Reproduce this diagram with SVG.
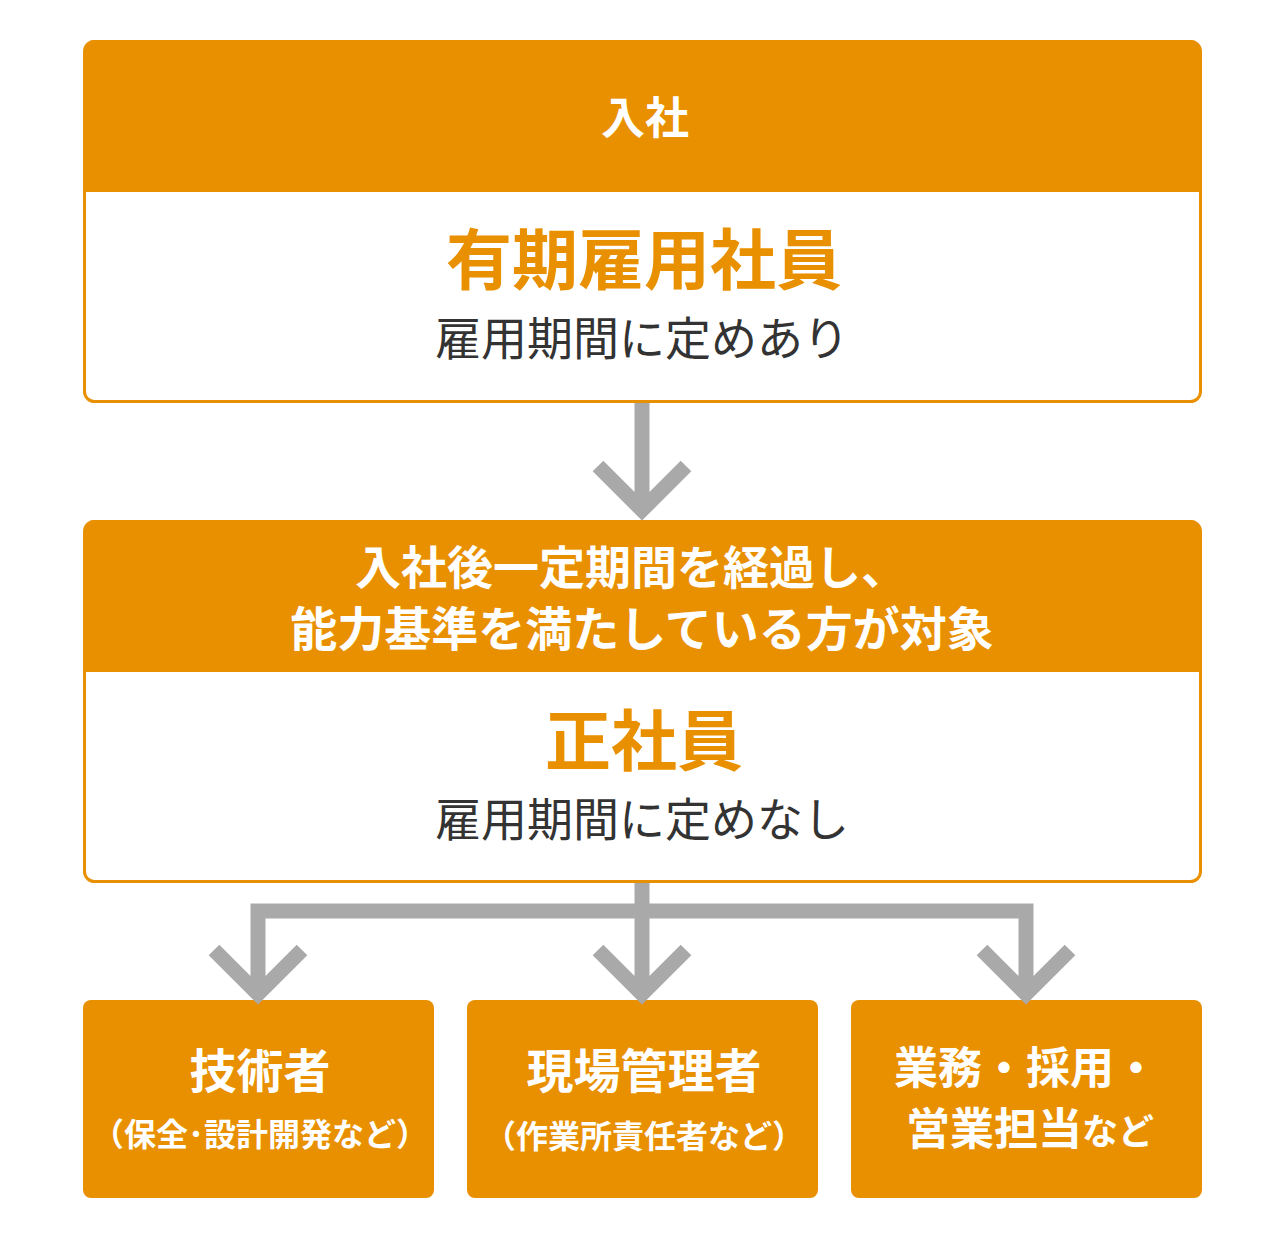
<svg xmlns="http://www.w3.org/2000/svg" width="1280" height="1240" viewBox="0 0 1280 1240">
<style>
.hd{fill:#E99000}
.bx{fill:#fff;stroke:#E99000;stroke-width:3}
.t{font-family:"Noto Sans CJK JP","Noto Sans",sans-serif;text-anchor:middle}
.w{fill:#fff;font-weight:bold}
.o{fill:#E99000;font-weight:bold}
.d{fill:#333}
.c{fill:none;stroke:#A9A9A9;stroke-width:15}
</style>
<rect width="1280" height="1240" fill="#fff"/>
<g id="node1">
<rect class="bx" x="84.5" y="41.5" width="1116" height="360" rx="10"/>
<path class="hd" d="M84 50a10 10 0 0 1 10-10h1097a10 10 0 0 1 10 10v142H84z"/>
<text class="t w" x="645" y="134" font-size="44">入社</text>
<text class="t o" x="644" y="284" font-size="66">有期雇用社員</text>
<text class="t d" x="642" y="355" font-size="46">雇用期間に定めあり</text>
</g>
<g id="node2">
<rect class="bx" x="84.5" y="521.5" width="1116" height="360" rx="10"/>
<path class="hd" d="M84 530a10 10 0 0 1 10-10h1097a10 10 0 0 1 10 10v142H84z"/>
<text class="t w" x="631" y="584" font-size="46">入社後一定期間を経過し、</text>
<text class="t w" x="642" y="646" font-size="47">能力基準を満たしている方が対象</text>
<text class="t o" x="644" y="765" font-size="66">正社員</text>
<text class="t d" x="642" y="836" font-size="46">雇用期間に定めなし</text>
</g>
<g id="node3">
<rect class="hd" x="83" y="1000" width="351" height="198" rx="8"/>
<text class="t w" x="260" y="1088" font-size="47">技術者</text>
<text class="t w" x="260" y="1146" font-size="32">（保全･設計開発など）</text>
</g>
<g id="node4">
<rect class="hd" x="467" y="1000" width="351" height="198" rx="8"/>
<text class="t w" x="644" y="1088" font-size="47">現場管理者</text>
<text class="t w" x="644" y="1148" font-size="32">（作業所責任者など）</text>
</g>
<g id="node5">
<rect class="hd" x="851" y="1000" width="351" height="198" rx="8"/>
<text class="t w" x="1026" y="1084" font-size="44">業務・採用・</text>
<text class="t w" x="1030" y="1145" font-size="44">営業担当<tspan font-size="36">など</tspan></text>
</g>
<g id="connectors">
<path class="c" d="M642 403V510M598 466l44 44 44-44"/>
<path class="c" d="M642 883V995M598 950l44 44 44-44"/>
<path class="c" d="M258 995V911H1026V995M214 950l44 44 44-44M982 950l44 44 44-44"/>
</g>
</svg>
